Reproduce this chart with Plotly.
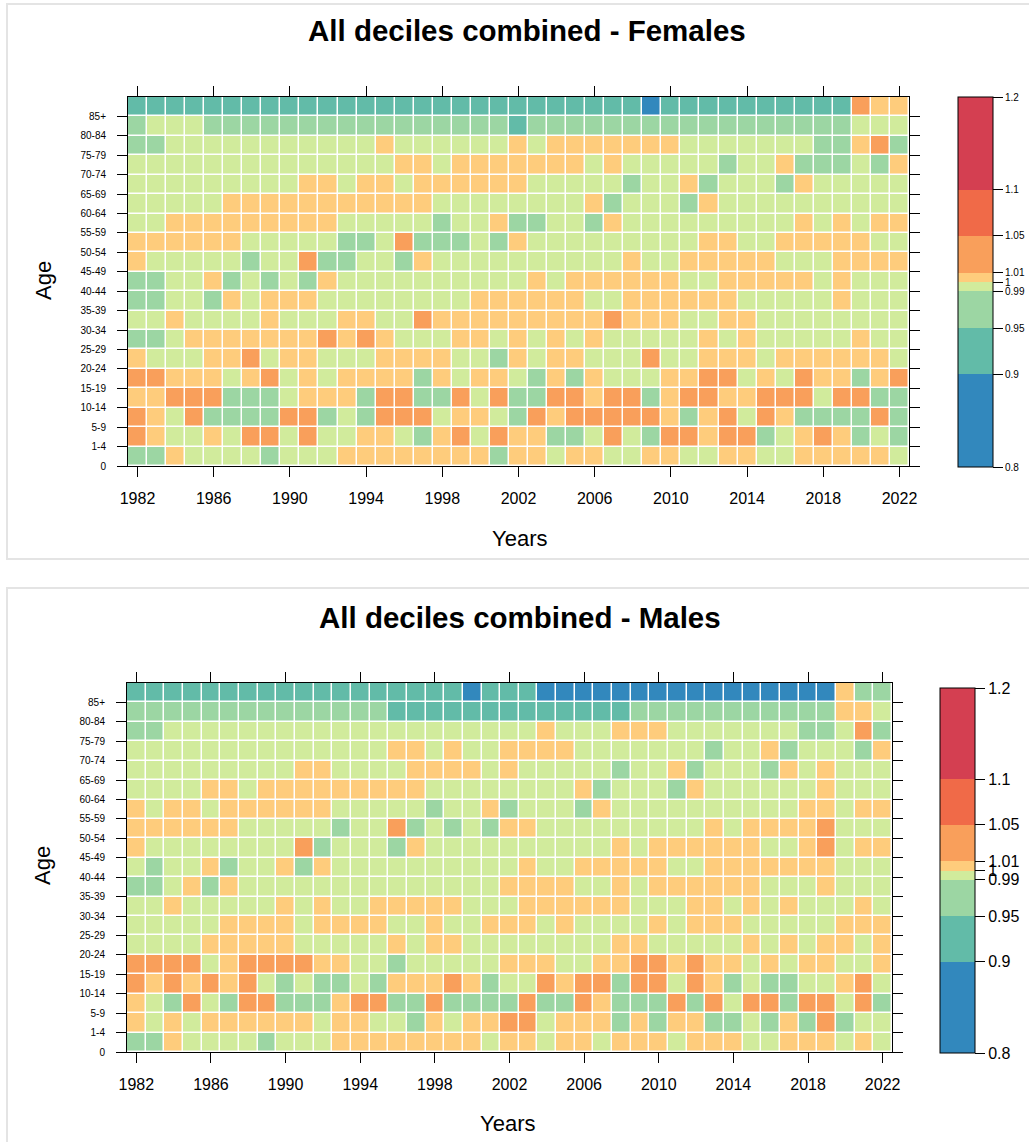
import plotly.graph_objects as go

# ---------------- data ----------------
years = list(range(1982, 2023))
year_ticks = list(range(1982, 2023, 4))
age_groups = ["0", "1-4", "5-9", "10-14", "15-19", "20-24", "25-29", "30-34", "35-39",
              "40-44", "45-49", "50-54", "55-59", "60-64", "65-69", "70-74", "75-79",
              "80-84", "85+"]
key_breaks = [0.8, 0.9, 0.95, 0.99, 1.0, 1.01, 1.05, 1.1, 1.2]
key_labels = ["0.8", "0.9", "0.95", "0.99", "1", "1.01", "1.05", "1.1", "1.2"]
key_colors = ["#3288BD", "#62BBA8", "#9CD6A3", "#D1EB9C", "#FECC7C", "#F99F5B", "#F06A48", "#D43F51"]

# Females (one list per age group, 1982..2022)
fem_0 = [0.97, 0.97, 1.005, 0.995, 0.995, 0.995, 0.995, 0.97, 0.995, 0.995, 0.995, 1.005, 1.005,
         1.005, 1.005, 1.005, 1.005, 1.005, 1.005, 0.97, 1.005, 1.005, 0.995, 1.005, 1.005, 0.995, 0.995,
         1.005, 1.005, 0.995, 0.995, 1.005, 1.005, 0.995, 0.995, 1.005, 1.005, 1.005, 1.005, 1.005, 0.995]
fem_1_4 = [1.03, 1.005, 0.995, 0.995, 1.005, 0.995, 1.03, 1.03, 0.995, 1.03, 0.995, 0.995, 1.005,
           1.005, 0.995, 0.97, 1.005, 1.03, 0.995, 1.03, 1.005, 1.005, 0.97, 0.97, 0.995, 1.03, 0.995,
           0.97, 1.03, 1.03, 1.005, 1.03, 1.03, 0.97, 0.995, 1.005, 1.03, 1.005, 0.97, 0.995, 0.97]
fem_5_9 = [1.03, 1.005, 0.995, 1.03, 0.97, 0.97, 0.97, 0.97, 1.03, 1.03, 0.97, 0.995, 0.97,
           1.03, 1.03, 1.03, 0.995, 1.005, 1.005, 0.995, 0.97, 1.03, 1.005, 1.03, 1.03, 1.03, 1.03,
           1.03, 1.005, 0.97, 1.005, 1.03, 0.995, 1.03, 1.005, 0.97, 0.97, 0.97, 0.97, 1.03, 0.97]
fem_10_14 = [1.005, 1.005, 1.03, 1.03, 1.03, 0.97, 0.97, 0.97, 0.995, 1.005, 1.005, 1.005, 0.97,
             1.03, 1.03, 0.97, 0.97, 1.03, 0.995, 1.03, 0.97, 0.97, 1.03, 1.03, 1.005, 1.03, 1.03,
             0.97, 1.005, 1.03, 1.03, 1.005, 1.005, 1.03, 1.03, 1.03, 0.995, 1.03, 1.03, 0.97, 0.97]
fem_15_19 = [1.03, 1.03, 1.005, 1.005, 1.005, 0.995, 1.005, 1.03, 0.995, 1.005, 0.995, 1.005, 1.005,
             1.005, 1.005, 0.97, 1.005, 0.995, 1.005, 1.005, 0.995, 0.97, 1.005, 0.97, 1.005, 0.995, 0.995,
             0.995, 1.005, 1.005, 1.03, 1.03, 0.995, 1.005, 0.995, 1.03, 1.005, 1.005, 0.97, 1.005, 1.03]
fem_20_24 = [1.005, 0.995, 0.995, 0.995, 1.005, 1.005, 1.03, 0.995, 1.005, 1.005, 0.995, 0.995, 0.995,
             1.005, 1.005, 1.005, 1.005, 0.995, 0.995, 0.97, 1.005, 0.995, 1.005, 1.005, 0.995, 0.995, 0.995,
             1.03, 0.995, 0.995, 1.005, 1.005, 1.005, 0.995, 1.005, 1.005, 1.005, 1.005, 1.005, 1.005, 0.995]
fem_25_29 = [0.97, 0.97, 0.995, 1.005, 1.005, 1.005, 1.005, 1.005, 1.005, 1.005, 1.03, 1.005, 1.03,
             1.005, 0.995, 0.995, 0.995, 1.005, 1.005, 0.995, 1.005, 0.995, 1.005, 0.995, 1.005, 0.995, 0.995,
             0.995, 0.995, 0.995, 1.005, 0.995, 1.005, 0.995, 0.995, 0.995, 0.995, 0.995, 1.005, 0.995, 0.995]
fem_30_34 = [0.995, 0.995, 1.005, 0.995, 0.995, 0.995, 0.995, 1.005, 0.995, 0.995, 0.995, 1.005, 1.005,
             0.995, 0.995, 1.03, 1.005, 1.005, 1.005, 1.005, 1.005, 1.005, 1.005, 1.005, 1.005, 1.03, 1.005,
             1.005, 1.005, 0.995, 0.995, 1.005, 1.005, 0.995, 0.995, 0.995, 0.995, 0.995, 0.995, 0.995, 0.995]
fem_35_39 = [0.97, 0.97, 0.995, 0.995, 0.97, 1.005, 0.995, 1.005, 1.005, 1.005, 0.995, 0.995, 0.995,
             0.995, 0.995, 0.995, 0.995, 0.995, 1.005, 1.005, 1.005, 1.005, 1.005, 1.005, 0.995, 0.995, 1.005,
             1.005, 1.005, 1.005, 1.005, 1.005, 0.995, 0.995, 0.995, 0.995, 0.995, 1.005, 0.995, 0.995, 0.995]
fem_40_44 = [0.97, 0.97, 0.995, 0.995, 1.005, 0.97, 0.995, 0.97, 0.995, 0.97, 1.005, 0.995, 0.995,
             0.995, 0.995, 0.995, 0.995, 0.995, 0.995, 0.995, 0.995, 1.005, 0.995, 1.005, 1.005, 1.005, 1.005,
             1.005, 1.005, 0.995, 0.995, 1.005, 1.005, 1.005, 1.005, 1.005, 0.995, 1.005, 0.995, 0.995, 0.995]
fem_45_49 = [1.005, 0.995, 0.995, 0.995, 0.995, 0.995, 0.97, 0.995, 0.995, 1.03, 0.97, 0.97, 0.995,
             0.995, 0.97, 1.005, 0.995, 0.995, 0.995, 0.995, 0.995, 0.995, 0.995, 0.995, 0.995, 0.995, 1.005,
             0.995, 0.995, 1.005, 1.005, 1.005, 1.005, 1.005, 0.995, 0.995, 0.995, 1.005, 1.005, 1.005, 1.005]
fem_50_54 = [1.005, 1.005, 1.005, 1.005, 1.005, 1.005, 0.995, 0.995, 0.995, 0.995, 0.995, 0.97, 0.97,
             0.995, 1.03, 0.97, 0.97, 0.97, 0.995, 0.97, 1.005, 0.995, 0.995, 0.995, 0.995, 0.995, 0.995,
             0.995, 0.995, 0.995, 1.005, 1.005, 0.995, 0.995, 1.005, 1.005, 1.005, 1.005, 1.005, 0.995, 0.995]
fem_55_59 = [0.995, 0.995, 1.005, 1.005, 1.005, 1.005, 1.005, 1.005, 1.005, 1.005, 1.005, 0.995, 0.995,
             0.995, 0.995, 0.995, 0.97, 0.995, 0.995, 1.005, 0.97, 0.97, 0.995, 0.995, 0.97, 1.005, 0.995,
             0.995, 0.995, 0.995, 0.995, 0.995, 0.995, 0.995, 0.995, 1.005, 0.995, 1.005, 0.995, 1.005, 1.005]
fem_60_64 = [0.995, 0.995, 0.995, 0.995, 0.995, 1.005, 1.005, 1.005, 1.005, 1.005, 1.005, 1.005, 1.005,
             1.005, 1.005, 1.005, 0.995, 0.995, 0.995, 0.995, 0.995, 0.995, 0.995, 0.995, 1.005, 0.97, 0.995,
             0.995, 0.995, 0.97, 1.005, 0.995, 0.995, 0.995, 0.995, 0.995, 0.995, 0.995, 0.995, 0.995, 0.995]
fem_65_69 = [0.995, 0.995, 0.995, 0.995, 0.995, 0.995, 0.995, 0.995, 0.995, 1.005, 1.005, 0.995, 1.005,
             1.005, 0.995, 1.005, 1.005, 1.005, 1.005, 1.005, 1.005, 0.995, 0.995, 0.995, 0.995, 0.995, 0.97,
             0.995, 0.995, 1.005, 0.97, 0.995, 0.995, 0.995, 0.97, 1.005, 0.995, 0.995, 0.995, 0.995, 0.995]
fem_70_74 = [0.995, 0.995, 0.995, 0.995, 0.995, 0.995, 0.995, 0.995, 0.995, 0.995, 0.995, 0.995, 0.995,
             0.995, 1.005, 1.005, 0.995, 1.005, 1.005, 1.005, 1.005, 1.005, 1.005, 1.005, 0.995, 1.005, 0.995,
             0.995, 0.995, 0.995, 0.995, 0.97, 0.995, 0.995, 1.005, 0.97, 0.97, 0.97, 0.995, 0.97, 1.005]
fem_75_79 = [0.97, 0.97, 0.995, 0.995, 0.995, 0.995, 0.995, 0.995, 0.995, 0.995, 0.995, 0.995, 0.995,
             1.005, 0.995, 0.995, 0.995, 0.995, 0.995, 0.995, 1.005, 0.995, 1.005, 1.005, 1.005, 1.005, 1.005,
             1.005, 1.005, 0.995, 0.995, 0.995, 0.995, 0.995, 0.995, 0.995, 0.97, 0.97, 1.005, 1.03, 0.97]
fem_80_84 = [0.97, 0.995, 0.995, 0.995, 0.97, 0.97, 0.97, 0.97, 0.97, 0.97, 0.97, 0.97, 0.97,
             0.97, 0.97, 0.97, 0.97, 0.97, 0.97, 0.97, 0.93, 0.97, 0.97, 0.97, 0.97, 0.97, 0.97,
             0.97, 0.97, 0.97, 0.97, 0.97, 0.97, 0.97, 0.97, 0.97, 0.97, 0.97, 0.995, 0.995, 0.995]
fem_85p = [0.93, 0.93, 0.93, 0.93, 0.93, 0.93, 0.93, 0.93, 0.93, 0.93, 0.93, 0.93, 0.93,
           0.93, 0.93, 0.93, 0.93, 0.93, 0.93, 0.93, 0.93, 0.93, 0.93, 0.93, 0.93, 0.93, 0.93,
           0.87, 0.93, 0.93, 0.93, 0.93, 0.93, 0.93, 0.93, 0.93, 0.93, 0.93, 1.03, 1.005, 1.005]

# Males (one list per age group, 1982..2022)
mal_0 = [0.97, 0.97, 1.005, 0.995, 0.995, 0.995, 0.995, 0.97, 0.995, 0.995, 0.995, 1.005, 1.005, 1.005,
         1.005, 1.005, 1.005, 1.005, 1.005, 0.995, 1.005, 1.005, 0.995, 1.005, 1.005, 0.995, 1.005, 1.005, 1.005,
         0.995, 1.005, 1.005, 1.005, 0.995, 0.995, 1.005, 1.005, 1.005, 0.995, 1.005, 0.995]
mal_1_4 = [1.005, 0.995, 1.005, 0.995, 1.005, 1.005, 1.005, 1.005, 1.005, 1.005, 0.995, 1.005, 1.005, 0.995,
           0.995, 0.97, 1.005, 0.995, 1.005, 1.005, 1.03, 1.03, 0.995, 1.005, 1.005, 1.005, 0.97, 1.005, 0.97,
           1.005, 1.005, 0.97, 0.97, 0.995, 0.97, 1.005, 0.97, 1.03, 0.97, 0.995, 0.995]
mal_5_9 = [1.005, 0.995, 0.97, 1.03, 0.995, 0.97, 1.03, 1.03, 0.97, 0.97, 0.97, 1.005, 1.03, 1.03,
           0.97, 0.97, 1.03, 0.97, 0.97, 0.97, 0.97, 1.03, 0.97, 0.97, 1.03, 1.005, 0.97, 0.97, 0.97,
           1.03, 0.97, 1.03, 0.995, 1.03, 1.03, 0.97, 1.03, 1.03, 0.995, 1.03, 0.97]
mal_10_14 = [1.03, 1.005, 1.03, 1.005, 1.03, 1.005, 1.03, 0.995, 0.97, 0.995, 0.97, 0.97, 0.995, 0.97,
             1.005, 1.005, 1.005, 1.03, 1.005, 0.97, 0.995, 0.995, 1.03, 1.005, 1.03, 1.03, 0.97, 1.03, 1.03,
             0.995, 1.03, 1.005, 0.97, 0.995, 0.97, 0.97, 0.995, 0.995, 1.005, 1.03, 0.995]
mal_15_19 = [1.03, 1.03, 1.03, 1.03, 0.995, 1.005, 1.03, 1.03, 1.03, 1.03, 1.005, 1.005, 0.995, 0.995,
             0.97, 0.995, 0.995, 0.995, 0.995, 0.995, 1.005, 1.005, 1.005, 0.995, 0.995, 1.005, 1.005, 1.03, 1.03,
             1.005, 1.03, 1.005, 1.005, 0.995, 1.005, 0.995, 1.005, 1.005, 0.995, 0.995, 1.005]
mal_20_24 = [0.995, 0.995, 0.995, 0.995, 1.005, 1.005, 1.005, 1.005, 1.005, 0.995, 0.995, 0.995, 0.995, 0.995,
             1.005, 0.995, 1.005, 1.005, 0.995, 0.995, 0.995, 0.995, 0.995, 0.995, 0.995, 0.995, 1.005, 1.005, 0.995,
             0.995, 0.995, 0.995, 0.995, 1.005, 0.995, 1.005, 0.995, 1.005, 1.005, 0.995, 1.005]
mal_25_29 = [0.995, 0.995, 0.995, 0.995, 0.995, 1.005, 1.005, 1.005, 1.005, 0.995, 1.005, 1.005, 1.005, 1.005,
             0.995, 0.995, 1.005, 0.995, 0.995, 1.005, 1.005, 1.005, 0.995, 1.005, 0.995, 0.995, 0.995, 0.995, 1.005,
             0.995, 1.005, 1.005, 1.005, 0.995, 0.995, 0.995, 0.995, 0.995, 1.005, 1.005, 1.005]
mal_30_34 = [0.995, 0.995, 1.005, 0.995, 0.995, 0.995, 0.995, 0.995, 1.005, 0.995, 1.005, 0.995, 0.995, 1.005,
             1.005, 1.005, 1.005, 1.005, 0.995, 0.995, 0.995, 1.005, 1.005, 1.005, 1.005, 1.005, 1.005, 0.995, 0.995,
             0.995, 1.005, 1.005, 0.995, 1.005, 0.995, 1.005, 0.995, 0.995, 0.995, 1.005, 0.995]
mal_35_39 = [0.97, 0.97, 0.995, 1.005, 0.97, 1.005, 0.995, 0.995, 0.995, 0.995, 0.995, 0.995, 0.995, 0.995,
             0.995, 0.995, 0.995, 0.995, 0.995, 0.995, 1.005, 1.005, 1.005, 1.005, 0.995, 0.995, 1.005, 0.995, 1.005,
             1.005, 1.005, 1.005, 1.005, 1.005, 0.995, 0.995, 0.995, 1.005, 0.995, 0.995, 0.995]
mal_40_44 = [0.995, 0.97, 0.995, 0.995, 1.005, 0.97, 0.995, 0.995, 1.005, 0.97, 1.005, 0.995, 0.995, 0.995,
             0.995, 0.995, 0.995, 0.995, 0.995, 0.995, 0.995, 1.005, 0.995, 0.995, 1.005, 1.005, 1.005, 1.005, 1.005,
             0.995, 0.995, 1.005, 1.005, 1.005, 1.005, 1.005, 1.005, 1.005, 0.995, 0.995, 0.995]
mal_45_49 = [1.005, 0.995, 0.995, 0.995, 0.995, 0.995, 0.995, 0.995, 0.995, 1.03, 0.97, 0.995, 0.995, 0.995,
             0.97, 1.005, 0.995, 0.995, 0.995, 0.995, 0.995, 0.995, 0.995, 0.995, 0.995, 0.995, 1.005, 0.995, 1.005,
             1.005, 1.005, 1.005, 1.005, 1.005, 0.995, 0.995, 1.005, 1.03, 0.995, 1.005, 1.005]
mal_50_54 = [1.005, 1.005, 1.005, 1.005, 1.005, 1.005, 0.995, 0.995, 0.995, 0.995, 0.995, 0.97, 0.995, 0.995,
             1.03, 0.97, 0.995, 0.97, 0.995, 0.97, 1.005, 1.005, 0.995, 0.995, 0.995, 0.995, 0.995, 0.995, 0.995,
             0.995, 0.995, 1.005, 0.995, 1.005, 1.005, 1.005, 1.005, 1.03, 0.995, 0.995, 0.995]
mal_55_59 = [1.005, 0.995, 1.005, 1.005, 0.995, 1.005, 1.005, 1.005, 1.005, 1.005, 1.005, 0.995, 0.995, 0.995,
             0.995, 0.995, 0.97, 0.995, 0.995, 1.005, 0.97, 0.995, 0.995, 0.995, 0.97, 1.005, 0.995, 0.995, 0.995,
             0.995, 0.995, 0.995, 0.995, 0.995, 0.995, 0.995, 1.005, 1.005, 0.995, 1.005, 1.005]
mal_60_64 = [0.995, 0.995, 0.995, 0.995, 1.005, 1.005, 0.995, 1.005, 1.005, 1.005, 1.005, 1.005, 1.005, 1.005,
             1.005, 1.005, 0.995, 0.995, 0.995, 0.995, 0.995, 0.995, 0.995, 0.995, 1.005, 0.97, 0.995, 0.995, 0.995,
             0.97, 1.005, 0.995, 0.995, 0.995, 0.995, 0.995, 0.995, 1.005, 0.995, 0.995, 0.995]
mal_65_69 = [0.995, 0.995, 0.995, 0.995, 0.995, 0.995, 0.995, 0.995, 0.995, 1.005, 1.005, 0.995, 0.995, 0.995,
             0.995, 1.005, 1.005, 1.005, 1.005, 0.995, 1.005, 0.995, 0.995, 0.995, 0.995, 0.995, 0.97, 0.995, 0.995,
             1.005, 0.97, 0.995, 0.995, 0.995, 0.97, 1.005, 0.995, 1.005, 0.995, 0.995, 0.995]
mal_70_74 = [0.995, 0.995, 0.995, 0.995, 0.995, 0.995, 0.995, 0.995, 0.995, 0.995, 0.995, 0.995, 0.995, 0.995,
             1.005, 1.005, 0.995, 1.005, 0.995, 0.995, 1.005, 1.005, 1.005, 1.005, 0.995, 0.995, 0.995, 0.995, 0.995,
             0.995, 0.995, 0.97, 0.995, 0.995, 1.005, 0.97, 0.995, 0.995, 0.995, 0.97, 1.005]
mal_75_79 = [0.97, 0.97, 0.995, 0.995, 0.995, 0.995, 0.995, 0.995, 0.995, 0.995, 0.995, 0.995, 0.995, 0.995,
             0.995, 0.995, 0.995, 0.995, 0.995, 0.995, 0.995, 0.995, 1.005, 0.995, 0.995, 0.995, 1.005, 1.005, 1.005,
             0.995, 0.995, 0.995, 0.995, 0.995, 0.995, 0.995, 0.97, 0.97, 0.995, 1.03, 0.97]
mal_80_84 = [0.97, 0.97, 0.97, 0.97, 0.97, 0.97, 0.97, 0.97, 0.97, 0.97, 0.97, 0.97, 0.97, 0.97,
             0.93, 0.93, 0.93, 0.93, 0.93, 0.93, 0.93, 0.93, 0.93, 0.93, 0.93, 0.93, 0.93, 0.97, 0.97,
             0.97, 0.97, 0.97, 0.97, 0.97, 0.97, 0.97, 0.97, 0.97, 1.005, 1.005, 0.995]
mal_85p = [0.93, 0.93, 0.93, 0.93, 0.93, 0.93, 0.93, 0.93, 0.93, 0.93, 0.93, 0.93, 0.93, 0.93,
           0.93, 0.93, 0.93, 0.93, 0.87, 0.93, 0.93, 0.93, 0.87, 0.87, 0.87, 0.87, 0.87, 0.87, 0.87,
           0.87, 0.87, 0.87, 0.87, 0.87, 0.87, 0.87, 0.87, 0.87, 1.005, 0.97, 0.97]

females = [fem_0, fem_1_4, fem_5_9, fem_10_14, fem_15_19, fem_20_24, fem_25_29, fem_30_34, fem_35_39,
           fem_40_44, fem_45_49, fem_50_54, fem_55_59, fem_60_64, fem_65_69, fem_70_74, fem_75_79,
           fem_80_84, fem_85p]
males = [mal_0, mal_1_4, mal_5_9, mal_10_14, mal_15_19, mal_20_24, mal_25_29, mal_30_34, mal_35_39,
         mal_40_44, mal_45_49, mal_50_54, mal_55_59, mal_60_64, mal_65_69, mal_70_74, mal_75_79,
         mal_80_84, mal_85p]
for row in females + males:
    assert len(row) == len(years), len(row)

# ---------------- styling ----------------
W, H = 1029, 1142
FONT = "Liberation Sans, Arial, Helvetica, sans-serif"


def px_x(v):
    return v / W


def px_y(v):
    return 1 - v / H


lo, hi = key_breaks[0], key_breaks[-1]
colorscale = []
for i, c in enumerate(key_colors):
    colorscale.append([(key_breaks[i] - lo) / (hi - lo), c])
    colorscale.append([(key_breaks[i + 1] - lo) / (hi - lo), c])

row_edges = list(range(len(age_groups) + 1))

fig = go.Figure()
fig.add_trace(go.Heatmap(x=years, y=row_edges, z=females, coloraxis="coloraxis",
                         xgap=1.5, ygap=1.5, xaxis="x", yaxis="y", hoverinfo="skip"))
fig.add_trace(go.Heatmap(x=years, y=row_edges, z=males, coloraxis="coloraxis2",
                         xgap=1.5, ygap=1.5, xaxis="x2", yaxis="y2", hoverinfo="skip"))

axis_common = dict(showline=True, linecolor="black", linewidth=1, mirror="ticks",
                   ticks="outside", ticklen=10, tickcolor="black", tickwidth=1,
                   showgrid=False, zeroline=False)
xr = [years[0] - 0.5, years[-1] + 0.5]
yr = [0, len(age_groups)]


def xaxis(domain, anchor):
    return dict(axis_common, domain=domain, range=xr, tickmode="array", tickvals=year_ticks,
                tickfont=dict(size=16, color="black", family=FONT), anchor=anchor,
                ticklabelstandoff=8)


def yaxis(domain, anchor):
    return dict(axis_common, domain=domain, range=yr, tickmode="array",
                tickvals=list(range(len(age_groups))), ticktext=age_groups,
                tickfont=dict(size=10, color="black", family=FONT), anchor=anchor,
                ticklabelstandoff=9)


def colorbar(x_left, y_top, y_bot, fsize):
    return dict(x=px_x(x_left), xanchor="left", y=px_y((y_top + y_bot) / 2), yanchor="middle",
                len=y_bot - y_top, lenmode="pixels", thickness=35, thicknessmode="pixels",
                outlinecolor="black", outlinewidth=1, ticks="outside", ticklen=10,
                tickcolor="black", tickmode="array", tickvals=key_breaks, ticktext=key_labels,
                tickfont=dict(size=fsize, color="black", family=FONT), xpad=0, ypad=0)


fig.update_layout(
    width=W, height=H,
    margin=dict(l=0, r=0, t=0, b=0, autoexpand=False),
    paper_bgcolor="white", plot_bgcolor="white",
    font=dict(family=FONT, color="black"),
    showlegend=False,
    xaxis=xaxis([px_x(128), px_x(909)], "y"),
    yaxis=yaxis([px_y(466), px_y(97)], "x"),
    xaxis2=xaxis([px_x(127), px_x(892)], "y2"),
    yaxis2=yaxis([px_y(1052), px_y(683)], "x2"),
    coloraxis=dict(cmin=lo, cmax=hi, colorscale=colorscale, colorbar=colorbar(958, 97, 467, 10)),
    coloraxis2=dict(cmin=lo, cmax=hi, colorscale=colorscale, colorbar=colorbar(940, 688, 1053, 16)),
)

# panel frames
fig.add_shape(type="rect", xref="paper", yref="paper", x0=px_x(7), x1=1.05, y0=px_y(559), y1=px_y(4),
              line=dict(color="#e4e4e4", width=2), fillcolor="rgba(0,0,0,0)", layer="below")
fig.add_shape(type="rect", xref="paper", yref="paper", x0=px_x(7), x1=1.05, y0=-0.05, y1=px_y(588),
              line=dict(color="#e4e4e4", width=2), fillcolor="rgba(0,0,0,0)", layer="below")

annots = [
    ("All deciles combined - Females", 527, 31, 29.5, True, 0),
    ("All deciles combined - Males", 520, 617, 29.5, True, 0),
    ("Years", 519, 538, 22, False, 0),
    ("Years", 507, 1123, 22, False, 0),
    ("Age", 43, 281, 22, False, -90),
    ("Age", 42, 866, 22, False, -90),
]
for text, x, y, size, bold, ang in annots:
    fig.add_annotation(text=f"<b>{text}</b>" if bold else text, x=px_x(x), y=px_y(y),
                       xref="paper", yref="paper", xanchor="center", yanchor="middle",
                       showarrow=False, textangle=ang,
                       font=dict(size=size, color="black", family=FONT))

fig.write_html("out.html", config={"displayModeBar": False},
               post_script="document.body.style.margin='0px';document.body.style.overflow='hidden';")
